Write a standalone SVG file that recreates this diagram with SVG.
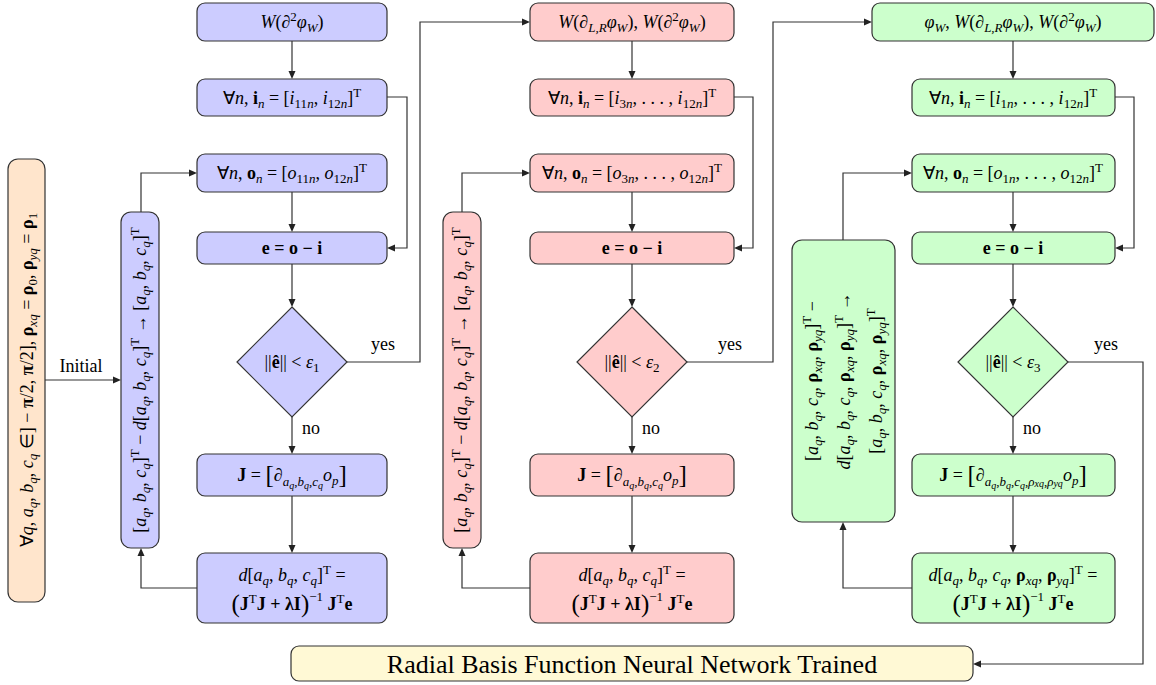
<svg xmlns="http://www.w3.org/2000/svg" width="1156" height="685" viewBox="0 0 1156 685">
<rect width="1156" height="685" fill="#ffffff"/>
<g id="connectors">
<g fill="none" stroke="#333333" stroke-width="1.2">
<path d="M45,380 H117"/>
<path d="M292,41 V75"/>
<path d="M387,97 H407 V248 H391"/>
<path d="M292,192 V228"/>
<path d="M292,264 V303"/>
<path d="M292,417 V450"/>
<path d="M292,496 V549"/>
<path d="M197,588 H141 V552"/>
<path d="M141,212 V173 H193"/>
<path d="M347,362 H420 V22 H526"/>
<path d="M632,41 V75"/>
<path d="M734,97 H753 V248 H738"/>
<path d="M632,192 V228"/>
<path d="M632,264 V303"/>
<path d="M632,417 V450"/>
<path d="M632,496 V549"/>
<path d="M530,588 H462 V552"/>
<path d="M462,212 V173 H526"/>
<path d="M687,362 H773 V22 H868"/>
<path d="M1013,41 V75"/>
<path d="M1115,97 H1134 V248 H1119"/>
<path d="M1013,192 V228"/>
<path d="M1013,264 V303"/>
<path d="M1013,417 V450"/>
<path d="M1013,496 V549"/>
<path d="M912,588 H843 V526"/>
<path d="M843,240 V173 H908"/>
<path d="M1068,362 H1143 V664 H977"/>
</g>
<g fill="#222222">
<polygon points="121,380 113,376.5 113,383.5"/>
<polygon points="292,79 288.5,71 295.5,71"/>
<polygon points="387,248 395,244.5 395,251.5"/>
<polygon points="292,232 288.5,224 295.5,224"/>
<polygon points="292,307 288.5,299 295.5,299"/>
<polygon points="292,454 288.5,446 295.5,446"/>
<polygon points="292,553 288.5,545 295.5,545"/>
<polygon points="141,548 137.5,556 144.5,556"/>
<polygon points="197,173 189,169.5 189,176.5"/>
<polygon points="530,22 522,18.5 522,25.5"/>
<polygon points="632,79 628.5,71 635.5,71"/>
<polygon points="734,248 742,244.5 742,251.5"/>
<polygon points="632,232 628.5,224 635.5,224"/>
<polygon points="632,307 628.5,299 635.5,299"/>
<polygon points="632,454 628.5,446 635.5,446"/>
<polygon points="632,553 628.5,545 635.5,545"/>
<polygon points="462,548 458.5,556 465.5,556"/>
<polygon points="530,173 522,169.5 522,176.5"/>
<polygon points="872,22 864,18.5 864,25.5"/>
<polygon points="1013,79 1009.5,71 1016.5,71"/>
<polygon points="1115,248 1123,244.5 1123,251.5"/>
<polygon points="1013,232 1009.5,224 1016.5,224"/>
<polygon points="1013,307 1009.5,299 1016.5,299"/>
<polygon points="1013,454 1009.5,446 1016.5,446"/>
<polygon points="1013,553 1009.5,545 1016.5,545"/>
<polygon points="843,522 839.5,530 846.5,530"/>
<polygon points="912,173 904,169.5 904,176.5"/>
<polygon points="973,664 981,660.5 981,667.5"/>
</g>
<text x="81" y="372" font-family="Liberation Serif" font-size="18" text-anchor="middle">Initial</text>
<text x="383" y="350" font-family="Liberation Serif" font-size="18" text-anchor="middle">yes</text>
<text x="311" y="434" font-family="Liberation Serif" font-size="18" text-anchor="middle">no</text>
<text x="730" y="350" font-family="Liberation Serif" font-size="18" text-anchor="middle">yes</text>
<text x="651" y="434" font-family="Liberation Serif" font-size="18" text-anchor="middle">no</text>
<text x="1106" y="350" font-family="Liberation Serif" font-size="18" text-anchor="middle">yes</text>
<text x="1032" y="434" font-family="Liberation Serif" font-size="18" text-anchor="middle">no</text>
</g>

<g id="init">
<rect x="8" y="159" width="37" height="443" rx="10" fill="#FFE5CC" stroke="#333333" stroke-width="1.2"/>
<text transform="translate(27,380) rotate(-90)" y="6" font-family="Liberation Serif" font-size="18" text-anchor="middle">∀<tspan font-style="italic">q</tspan>, <tspan font-style="italic">a</tspan><tspan font-size="13" font-style="italic" dy="4">q</tspan><tspan dy="-4">, </tspan><tspan font-style="italic">b</tspan><tspan font-size="13" font-style="italic" dy="4">q</tspan><tspan dy="-4">, </tspan><tspan font-style="italic">c</tspan><tspan font-size="13" font-style="italic" dy="4">q</tspan><tspan dy="-4"> ∈] − </tspan><tspan font-weight="bold">π</tspan>/2, <tspan font-weight="bold">π</tspan>/2], <tspan font-weight="bold">ρ</tspan><tspan font-size="13" font-style="italic" dy="4">xq</tspan><tspan dy="-4"> = </tspan><tspan font-weight="bold">ρ</tspan><tspan font-size="13" dy="4">0</tspan><tspan dy="-4">, </tspan><tspan font-weight="bold">ρ</tspan><tspan font-size="13" font-style="italic" dy="4">yq</tspan><tspan dy="-4"> = </tspan><tspan font-weight="bold">ρ</tspan><tspan font-size="13" dy="4">1</tspan></text>
</g>

<g id="b-update">
<rect x="121" y="212" width="38" height="336" rx="10" fill="#CCCCFF" stroke="#333333" stroke-width="1.2"/>
<text transform="translate(140,380) rotate(-90)" y="6" font-family="Liberation Serif" font-size="18" text-anchor="middle">[<tspan font-style="italic">a</tspan><tspan font-size="13" font-style="italic" dy="4">q</tspan><tspan dy="-4">, </tspan><tspan font-style="italic">b</tspan><tspan font-size="13" font-style="italic" dy="4">q</tspan><tspan dy="-4">, </tspan><tspan font-style="italic">c</tspan><tspan font-size="13" font-style="italic" dy="4">q</tspan><tspan dy="-4">]</tspan><tspan font-size="13" dy="-7">T</tspan><tspan dy="7"> − </tspan><tspan font-style="italic">d</tspan>[<tspan font-style="italic">a</tspan><tspan font-size="13" font-style="italic" dy="4">q</tspan><tspan dy="-4">, </tspan><tspan font-style="italic">b</tspan><tspan font-size="13" font-style="italic" dy="4">q</tspan><tspan dy="-4">, </tspan><tspan font-style="italic">c</tspan><tspan font-size="13" font-style="italic" dy="4">q</tspan><tspan dy="-4">]</tspan><tspan font-size="13" dy="-7">T</tspan><tspan dy="7"> → [</tspan><tspan font-style="italic">a</tspan><tspan font-size="13" font-style="italic" dy="4">q</tspan><tspan dy="-4">, </tspan><tspan font-style="italic">b</tspan><tspan font-size="13" font-style="italic" dy="4">q</tspan><tspan dy="-4">, </tspan><tspan font-style="italic">c</tspan><tspan font-size="13" font-style="italic" dy="4">q</tspan><tspan dy="-4">]</tspan><tspan font-size="13" dy="-7">T</tspan></text>
</g>
<g id="b-w">
<rect x="197" y="3" width="190" height="38" rx="8" fill="#CCCCFF" stroke="#333333" stroke-width="1.2"/>
<text x="292" y="28" font-family="Liberation Serif" font-size="18" text-anchor="middle"><tspan font-style="italic">W</tspan>(∂<tspan font-size="13" dy="-7">2</tspan><tspan font-style="italic" dy="7">φ</tspan><tspan font-size="13" font-style="italic" dy="4">W</tspan><tspan dy="-4">)</tspan></text>
</g>
<g id="b-in">
<rect x="197" y="79" width="190" height="37" rx="8" fill="#CCCCFF" stroke="#333333" stroke-width="1.2"/>
<text x="292" y="104" font-family="Liberation Serif" font-size="18" text-anchor="middle">∀<tspan font-style="italic">n</tspan>, <tspan font-weight="bold">i</tspan><tspan font-size="13" font-style="italic" dy="4">n</tspan><tspan dy="-4"> = [</tspan><tspan font-style="italic">i</tspan><tspan font-size="13" dy="4">11<tspan font-style="italic">n</tspan></tspan><tspan dy="-4">, </tspan><tspan font-style="italic">i</tspan><tspan font-size="13" dy="4">12<tspan font-style="italic">n</tspan></tspan><tspan dy="-4">]</tspan><tspan font-size="13" dy="-7">T</tspan></text>
</g>
<g id="b-out">
<rect x="197" y="154" width="190" height="38" rx="8" fill="#CCCCFF" stroke="#333333" stroke-width="1.2"/>
<text x="292" y="179" font-family="Liberation Serif" font-size="18" text-anchor="middle">∀<tspan font-style="italic">n</tspan>, <tspan font-weight="bold">o</tspan><tspan font-size="13" font-style="italic" dy="4">n</tspan><tspan dy="-4"> = [</tspan><tspan font-style="italic">o</tspan><tspan font-size="13" dy="4">11<tspan font-style="italic">n</tspan></tspan><tspan dy="-4">, </tspan><tspan font-style="italic">o</tspan><tspan font-size="13" dy="4">12<tspan font-style="italic">n</tspan></tspan><tspan dy="-4">]</tspan><tspan font-size="13" dy="-7">T</tspan></text>
</g>
<g id="b-err">
<rect x="197" y="232" width="190" height="32" rx="8" fill="#CCCCFF" stroke="#333333" stroke-width="1.2"/>
<text x="292" y="254" font-family="Liberation Serif" font-size="18" font-weight="bold" text-anchor="middle">e = o − i</text>
</g>
<g id="b-dec">
<polygon points="292,307 347,362 292,417 237,362" fill="#CCCCFF" stroke="#333333" stroke-width="1.2"/>
<text x="292" y="368" font-family="Liberation Serif" font-size="18" text-anchor="middle">||<tspan font-weight="bold">ê</tspan>|| &lt; <tspan font-style="italic">ε</tspan><tspan font-size="13" dy="4">1</tspan></text>
</g>
<g id="b-jac">
<rect x="197" y="454" width="190" height="42" rx="8" fill="#CCCCFF" stroke="#333333" stroke-width="1.2"/>
<text x="292" y="481" font-family="Liberation Serif" font-size="18" text-anchor="middle"><tspan font-weight="bold">J</tspan> = <tspan font-size="25" dy="2">[</tspan><tspan dy="-2">∂</tspan><tspan font-size="13" font-style="italic" dy="5">a</tspan><tspan font-size="10" font-style="italic" dy="3">q</tspan><tspan font-size="13" dy="-3">,</tspan><tspan font-size="13" font-style="italic">b</tspan><tspan font-size="10" font-style="italic" dy="3">q</tspan><tspan font-size="13" dy="-3">,</tspan><tspan font-size="13" font-style="italic">c</tspan><tspan font-size="10" font-style="italic" dy="3">q</tspan><tspan font-style="italic" dy="-8">o</tspan><tspan font-size="13" font-style="italic" dy="4">p</tspan><tspan font-size="25" dy="-2">]</tspan></text>
</g>
<g id="b-step">
<rect x="197" y="553" width="190" height="70" rx="8" fill="#CCCCFF" stroke="#333333" stroke-width="1.2"/>
<text x="292" y="581" font-family="Liberation Serif" font-size="18" text-anchor="middle"><tspan font-style="italic">d</tspan>[<tspan font-style="italic">a</tspan><tspan font-size="13" font-style="italic" dy="4">q</tspan><tspan dy="-4">, </tspan><tspan font-style="italic">b</tspan><tspan font-size="13" font-style="italic" dy="4">q</tspan><tspan dy="-4">, </tspan><tspan font-style="italic">c</tspan><tspan font-size="13" font-style="italic" dy="4">q</tspan><tspan dy="-4">]</tspan><tspan font-size="13" dy="-7">T</tspan><tspan dy="7"> =</tspan></text>
<text x="292" y="610" font-family="Liberation Serif" font-size="18" font-weight="bold" text-anchor="middle"><tspan font-size="25" font-weight="normal" dy="2">(</tspan><tspan dy="-2">J</tspan><tspan font-size="13" font-weight="normal" dy="-7">T</tspan><tspan dy="7">J + λI</tspan><tspan font-size="25" font-weight="normal" dy="2">)</tspan><tspan font-size="13" font-weight="normal" dy="-11">−1</tspan><tspan dy="9"> J</tspan><tspan font-size="13" font-weight="normal" dy="-7">T</tspan><tspan dy="7">e</tspan></text>
</g>

<g id="r-update">
<rect x="443" y="212" width="38" height="336" rx="10" fill="#FFCCCC" stroke="#333333" stroke-width="1.2"/>
<text transform="translate(461,380) rotate(-90)" y="6" font-family="Liberation Serif" font-size="18" text-anchor="middle">[<tspan font-style="italic">a</tspan><tspan font-size="13" font-style="italic" dy="4">q</tspan><tspan dy="-4">, </tspan><tspan font-style="italic">b</tspan><tspan font-size="13" font-style="italic" dy="4">q</tspan><tspan dy="-4">, </tspan><tspan font-style="italic">c</tspan><tspan font-size="13" font-style="italic" dy="4">q</tspan><tspan dy="-4">]</tspan><tspan font-size="13" dy="-7">T</tspan><tspan dy="7"> − </tspan><tspan font-style="italic">d</tspan>[<tspan font-style="italic">a</tspan><tspan font-size="13" font-style="italic" dy="4">q</tspan><tspan dy="-4">, </tspan><tspan font-style="italic">b</tspan><tspan font-size="13" font-style="italic" dy="4">q</tspan><tspan dy="-4">, </tspan><tspan font-style="italic">c</tspan><tspan font-size="13" font-style="italic" dy="4">q</tspan><tspan dy="-4">]</tspan><tspan font-size="13" dy="-7">T</tspan><tspan dy="7"> → [</tspan><tspan font-style="italic">a</tspan><tspan font-size="13" font-style="italic" dy="4">q</tspan><tspan dy="-4">, </tspan><tspan font-style="italic">b</tspan><tspan font-size="13" font-style="italic" dy="4">q</tspan><tspan dy="-4">, </tspan><tspan font-style="italic">c</tspan><tspan font-size="13" font-style="italic" dy="4">q</tspan><tspan dy="-4">]</tspan><tspan font-size="13" dy="-7">T</tspan></text>
</g>
<g id="r-w">
<rect x="530" y="3" width="204" height="38" rx="8" fill="#FFCCCC" stroke="#333333" stroke-width="1.2"/>
<text x="632" y="28" font-family="Liberation Serif" font-size="18" text-anchor="middle"><tspan font-style="italic">W</tspan>(∂<tspan font-size="13" font-style="italic" dy="4">L,R</tspan><tspan font-style="italic" dy="-4">φ</tspan><tspan font-size="13" font-style="italic" dy="4">W</tspan><tspan dy="-4">), </tspan><tspan font-style="italic">W</tspan>(∂<tspan font-size="13" dy="-7">2</tspan><tspan font-style="italic" dy="7">φ</tspan><tspan font-size="13" font-style="italic" dy="4">W</tspan><tspan dy="-4">)</tspan></text>
</g>
<g id="r-in">
<rect x="530" y="79" width="204" height="37" rx="8" fill="#FFCCCC" stroke="#333333" stroke-width="1.2"/>
<text x="632" y="104" font-family="Liberation Serif" font-size="18" text-anchor="middle">∀<tspan font-style="italic">n</tspan>, <tspan font-weight="bold">i</tspan><tspan font-size="13" font-style="italic" dy="4">n</tspan><tspan dy="-4"> = [</tspan><tspan font-style="italic">i</tspan><tspan font-size="13" dy="4">3<tspan font-style="italic">n</tspan></tspan><tspan dy="-4">, . . . , </tspan><tspan font-style="italic">i</tspan><tspan font-size="13" dy="4">12<tspan font-style="italic">n</tspan></tspan><tspan dy="-4">]</tspan><tspan font-size="13" dy="-7">T</tspan></text>
</g>
<g id="r-out">
<rect x="530" y="154" width="204" height="38" rx="8" fill="#FFCCCC" stroke="#333333" stroke-width="1.2"/>
<text x="632" y="179" font-family="Liberation Serif" font-size="18" text-anchor="middle">∀<tspan font-style="italic">n</tspan>, <tspan font-weight="bold">o</tspan><tspan font-size="13" font-style="italic" dy="4">n</tspan><tspan dy="-4"> = [</tspan><tspan font-style="italic">o</tspan><tspan font-size="13" dy="4">3<tspan font-style="italic">n</tspan></tspan><tspan dy="-4">, . . . , </tspan><tspan font-style="italic">o</tspan><tspan font-size="13" dy="4">12<tspan font-style="italic">n</tspan></tspan><tspan dy="-4">]</tspan><tspan font-size="13" dy="-7">T</tspan></text>
</g>
<g id="r-err">
<rect x="530" y="232" width="204" height="32" rx="8" fill="#FFCCCC" stroke="#333333" stroke-width="1.2"/>
<text x="632" y="254" font-family="Liberation Serif" font-size="18" font-weight="bold" text-anchor="middle">e = o − i</text>
</g>
<g id="r-dec">
<polygon points="632,307 687,362 632,417 577,362" fill="#FFCCCC" stroke="#333333" stroke-width="1.2"/>
<text x="632" y="368" font-family="Liberation Serif" font-size="18" text-anchor="middle">||<tspan font-weight="bold">ê</tspan>|| &lt; <tspan font-style="italic">ε</tspan><tspan font-size="13" dy="4">2</tspan></text>
</g>
<g id="r-jac">
<rect x="530" y="454" width="204" height="42" rx="8" fill="#FFCCCC" stroke="#333333" stroke-width="1.2"/>
<text x="632" y="481" font-family="Liberation Serif" font-size="18" text-anchor="middle"><tspan font-weight="bold">J</tspan> = <tspan font-size="25" dy="2">[</tspan><tspan dy="-2">∂</tspan><tspan font-size="13" font-style="italic" dy="5">a</tspan><tspan font-size="10" font-style="italic" dy="3">q</tspan><tspan font-size="13" dy="-3">,</tspan><tspan font-size="13" font-style="italic">b</tspan><tspan font-size="10" font-style="italic" dy="3">q</tspan><tspan font-size="13" dy="-3">,</tspan><tspan font-size="13" font-style="italic">c</tspan><tspan font-size="10" font-style="italic" dy="3">q</tspan><tspan font-style="italic" dy="-8">o</tspan><tspan font-size="13" font-style="italic" dy="4">p</tspan><tspan font-size="25" dy="-2">]</tspan></text>
</g>
<g id="r-step">
<rect x="530" y="553" width="204" height="70" rx="8" fill="#FFCCCC" stroke="#333333" stroke-width="1.2"/>
<text x="632" y="581" font-family="Liberation Serif" font-size="18" text-anchor="middle"><tspan font-style="italic">d</tspan>[<tspan font-style="italic">a</tspan><tspan font-size="13" font-style="italic" dy="4">q</tspan><tspan dy="-4">, </tspan><tspan font-style="italic">b</tspan><tspan font-size="13" font-style="italic" dy="4">q</tspan><tspan dy="-4">, </tspan><tspan font-style="italic">c</tspan><tspan font-size="13" font-style="italic" dy="4">q</tspan><tspan dy="-4">]</tspan><tspan font-size="13" dy="-7">T</tspan><tspan dy="7"> =</tspan></text>
<text x="632" y="610" font-family="Liberation Serif" font-size="18" font-weight="bold" text-anchor="middle"><tspan font-size="25" font-weight="normal" dy="2">(</tspan><tspan dy="-2">J</tspan><tspan font-size="13" font-weight="normal" dy="-7">T</tspan><tspan dy="7">J + λI</tspan><tspan font-size="25" font-weight="normal" dy="2">)</tspan><tspan font-size="13" font-weight="normal" dy="-11">−1</tspan><tspan dy="9"> J</tspan><tspan font-size="13" font-weight="normal" dy="-7">T</tspan><tspan dy="7">e</tspan></text>
</g>

<g id="g-update">
<rect x="792" y="240" width="103" height="282" rx="10" fill="#CCFFCC" stroke="#333333" stroke-width="1.2"/>
<text transform="translate(843,381) rotate(-90)" y="-25" font-family="Liberation Serif" font-size="18" text-anchor="middle">[<tspan font-style="italic">a</tspan><tspan font-size="13" font-style="italic" dy="4">q</tspan><tspan dy="-4">, </tspan><tspan font-style="italic">b</tspan><tspan font-size="13" font-style="italic" dy="4">q</tspan><tspan dy="-4">, </tspan><tspan font-style="italic">c</tspan><tspan font-size="13" font-style="italic" dy="4">q</tspan><tspan dy="-4">, </tspan><tspan font-weight="bold">ρ</tspan><tspan font-size="13" font-style="italic" dy="4">xq</tspan><tspan dy="-4">, </tspan><tspan font-weight="bold">ρ</tspan><tspan font-size="13" font-style="italic" dy="4">yq</tspan><tspan dy="-4">]</tspan><tspan font-size="13" dy="-7">T</tspan><tspan dy="7"> −</tspan></text>
<text transform="translate(843,381) rotate(-90)" y="7" font-family="Liberation Serif" font-size="18" text-anchor="middle"><tspan font-style="italic">d</tspan>[<tspan font-style="italic">a</tspan><tspan font-size="13" font-style="italic" dy="4">q</tspan><tspan dy="-4">, </tspan><tspan font-style="italic">b</tspan><tspan font-size="13" font-style="italic" dy="4">q</tspan><tspan dy="-4">, </tspan><tspan font-style="italic">c</tspan><tspan font-size="13" font-style="italic" dy="4">q</tspan><tspan dy="-4">, </tspan><tspan font-weight="bold">ρ</tspan><tspan font-size="13" font-style="italic" dy="4">xq</tspan><tspan dy="-4">, </tspan><tspan font-weight="bold">ρ</tspan><tspan font-size="13" font-style="italic" dy="4">yq</tspan><tspan dy="-4">]</tspan><tspan font-size="13" dy="-7">T</tspan><tspan dy="7"> →</tspan></text>
<text transform="translate(843,381) rotate(-90)" y="39" font-family="Liberation Serif" font-size="18" text-anchor="middle">[<tspan font-style="italic">a</tspan><tspan font-size="13" font-style="italic" dy="4">q</tspan><tspan dy="-4">, </tspan><tspan font-style="italic">b</tspan><tspan font-size="13" font-style="italic" dy="4">q</tspan><tspan dy="-4">, </tspan><tspan font-style="italic">c</tspan><tspan font-size="13" font-style="italic" dy="4">q</tspan><tspan dy="-4">, </tspan><tspan font-weight="bold">ρ</tspan><tspan font-size="13" font-style="italic" dy="4">xq</tspan><tspan dy="-4">, </tspan><tspan font-weight="bold">ρ</tspan><tspan font-size="13" font-style="italic" dy="4">yq</tspan><tspan dy="-4">]</tspan><tspan font-size="13" dy="-7">T</tspan></text>
</g>
<g id="g-w">
<rect x="872" y="3" width="282" height="38" rx="8" fill="#CCFFCC" stroke="#333333" stroke-width="1.2"/>
<text x="1013" y="28" font-family="Liberation Serif" font-size="18" text-anchor="middle"><tspan font-style="italic">φ</tspan><tspan font-size="13" font-style="italic" dy="4">W</tspan><tspan dy="-4">, </tspan><tspan font-style="italic">W</tspan>(∂<tspan font-size="13" font-style="italic" dy="4">L,R</tspan><tspan font-style="italic" dy="-4">φ</tspan><tspan font-size="13" font-style="italic" dy="4">W</tspan><tspan dy="-4">), </tspan><tspan font-style="italic">W</tspan>(∂<tspan font-size="13" dy="-7">2</tspan><tspan font-style="italic" dy="7">φ</tspan><tspan font-size="13" font-style="italic" dy="4">W</tspan><tspan dy="-4">)</tspan></text>
</g>
<g id="g-in">
<rect x="912" y="79" width="203" height="37" rx="8" fill="#CCFFCC" stroke="#333333" stroke-width="1.2"/>
<text x="1013" y="104" font-family="Liberation Serif" font-size="18" text-anchor="middle">∀<tspan font-style="italic">n</tspan>, <tspan font-weight="bold">i</tspan><tspan font-size="13" font-style="italic" dy="4">n</tspan><tspan dy="-4"> = [</tspan><tspan font-style="italic">i</tspan><tspan font-size="13" dy="4">1<tspan font-style="italic">n</tspan></tspan><tspan dy="-4">, . . . , </tspan><tspan font-style="italic">i</tspan><tspan font-size="13" dy="4">12<tspan font-style="italic">n</tspan></tspan><tspan dy="-4">]</tspan><tspan font-size="13" dy="-7">T</tspan></text>
</g>
<g id="g-out">
<rect x="912" y="154" width="203" height="38" rx="8" fill="#CCFFCC" stroke="#333333" stroke-width="1.2"/>
<text x="1013" y="179" font-family="Liberation Serif" font-size="18" text-anchor="middle">∀<tspan font-style="italic">n</tspan>, <tspan font-weight="bold">o</tspan><tspan font-size="13" font-style="italic" dy="4">n</tspan><tspan dy="-4"> = [</tspan><tspan font-style="italic">o</tspan><tspan font-size="13" dy="4">1<tspan font-style="italic">n</tspan></tspan><tspan dy="-4">, . . . , </tspan><tspan font-style="italic">o</tspan><tspan font-size="13" dy="4">12<tspan font-style="italic">n</tspan></tspan><tspan dy="-4">]</tspan><tspan font-size="13" dy="-7">T</tspan></text>
</g>
<g id="g-err">
<rect x="912" y="232" width="203" height="32" rx="8" fill="#CCFFCC" stroke="#333333" stroke-width="1.2"/>
<text x="1013" y="254" font-family="Liberation Serif" font-size="18" font-weight="bold" text-anchor="middle">e = o − i</text>
</g>
<g id="g-dec">
<polygon points="1013,307 1068,362 1013,417 958,362" fill="#CCFFCC" stroke="#333333" stroke-width="1.2"/>
<text x="1013" y="368" font-family="Liberation Serif" font-size="18" text-anchor="middle">||<tspan font-weight="bold">ê</tspan>|| &lt; <tspan font-style="italic">ε</tspan><tspan font-size="13" dy="4">3</tspan></text>
</g>
<g id="g-jac">
<rect x="912" y="454" width="203" height="42" rx="8" fill="#CCFFCC" stroke="#333333" stroke-width="1.2"/>
<text x="1013" y="481" font-family="Liberation Serif" font-size="18" text-anchor="middle"><tspan font-weight="bold">J</tspan> = <tspan font-size="25" dy="2">[</tspan><tspan dy="-2">∂</tspan><tspan font-size="13" font-style="italic" dy="5">a</tspan><tspan font-size="10" font-style="italic" dy="3">q</tspan><tspan font-size="13" dy="-3">,</tspan><tspan font-size="13" font-style="italic">b</tspan><tspan font-size="10" font-style="italic" dy="3">q</tspan><tspan font-size="13" dy="-3">,</tspan><tspan font-size="13" font-style="italic">c</tspan><tspan font-size="10" font-style="italic" dy="3">q</tspan><tspan font-size="13" dy="-3">,</tspan><tspan font-size="13" font-style="italic">ρ</tspan><tspan font-size="10" font-style="italic" dy="1">xq</tspan><tspan font-size="13" dy="-1">,</tspan><tspan font-size="13" font-style="italic">ρ</tspan><tspan font-size="10" font-style="italic" dy="1">yq</tspan><tspan font-style="italic" dy="-6">o</tspan><tspan font-size="13" font-style="italic" dy="4">p</tspan><tspan font-size="25" dy="-2">]</tspan></text>
</g>
<g id="g-step">
<rect x="912" y="553" width="203" height="70" rx="8" fill="#CCFFCC" stroke="#333333" stroke-width="1.2"/>
<text x="1013" y="581" font-family="Liberation Serif" font-size="18" text-anchor="middle"><tspan font-style="italic">d</tspan>[<tspan font-style="italic">a</tspan><tspan font-size="13" font-style="italic" dy="4">q</tspan><tspan dy="-4">, </tspan><tspan font-style="italic">b</tspan><tspan font-size="13" font-style="italic" dy="4">q</tspan><tspan dy="-4">, </tspan><tspan font-style="italic">c</tspan><tspan font-size="13" font-style="italic" dy="4">q</tspan><tspan dy="-4">, </tspan><tspan font-weight="bold">ρ</tspan><tspan font-size="13" font-style="italic" dy="4">xq</tspan><tspan dy="-4">, </tspan><tspan font-weight="bold">ρ</tspan><tspan font-size="13" font-style="italic" dy="4">yq</tspan><tspan dy="-4">]</tspan><tspan font-size="13" dy="-7">T</tspan><tspan dy="7"> =</tspan></text>
<text x="1013" y="610" font-family="Liberation Serif" font-size="18" font-weight="bold" text-anchor="middle"><tspan font-size="25" font-weight="normal" dy="2">(</tspan><tspan dy="-2">J</tspan><tspan font-size="13" font-weight="normal" dy="-7">T</tspan><tspan dy="7">J + λI</tspan><tspan font-size="25" font-weight="normal" dy="2">)</tspan><tspan font-size="13" font-weight="normal" dy="-11">−1</tspan><tspan dy="9"> J</tspan><tspan font-size="13" font-weight="normal" dy="-7">T</tspan><tspan dy="7">e</tspan></text>
</g>

<g id="trained">
<rect x="291" y="646" width="682" height="35" rx="8" fill="#FFF9D5" stroke="#333333" stroke-width="1.2"/>
<text x="632" y="673" font-family="Liberation Serif" font-size="26" text-anchor="middle">Radial Basis Function Neural Network Trained</text>
</g>
</svg>
